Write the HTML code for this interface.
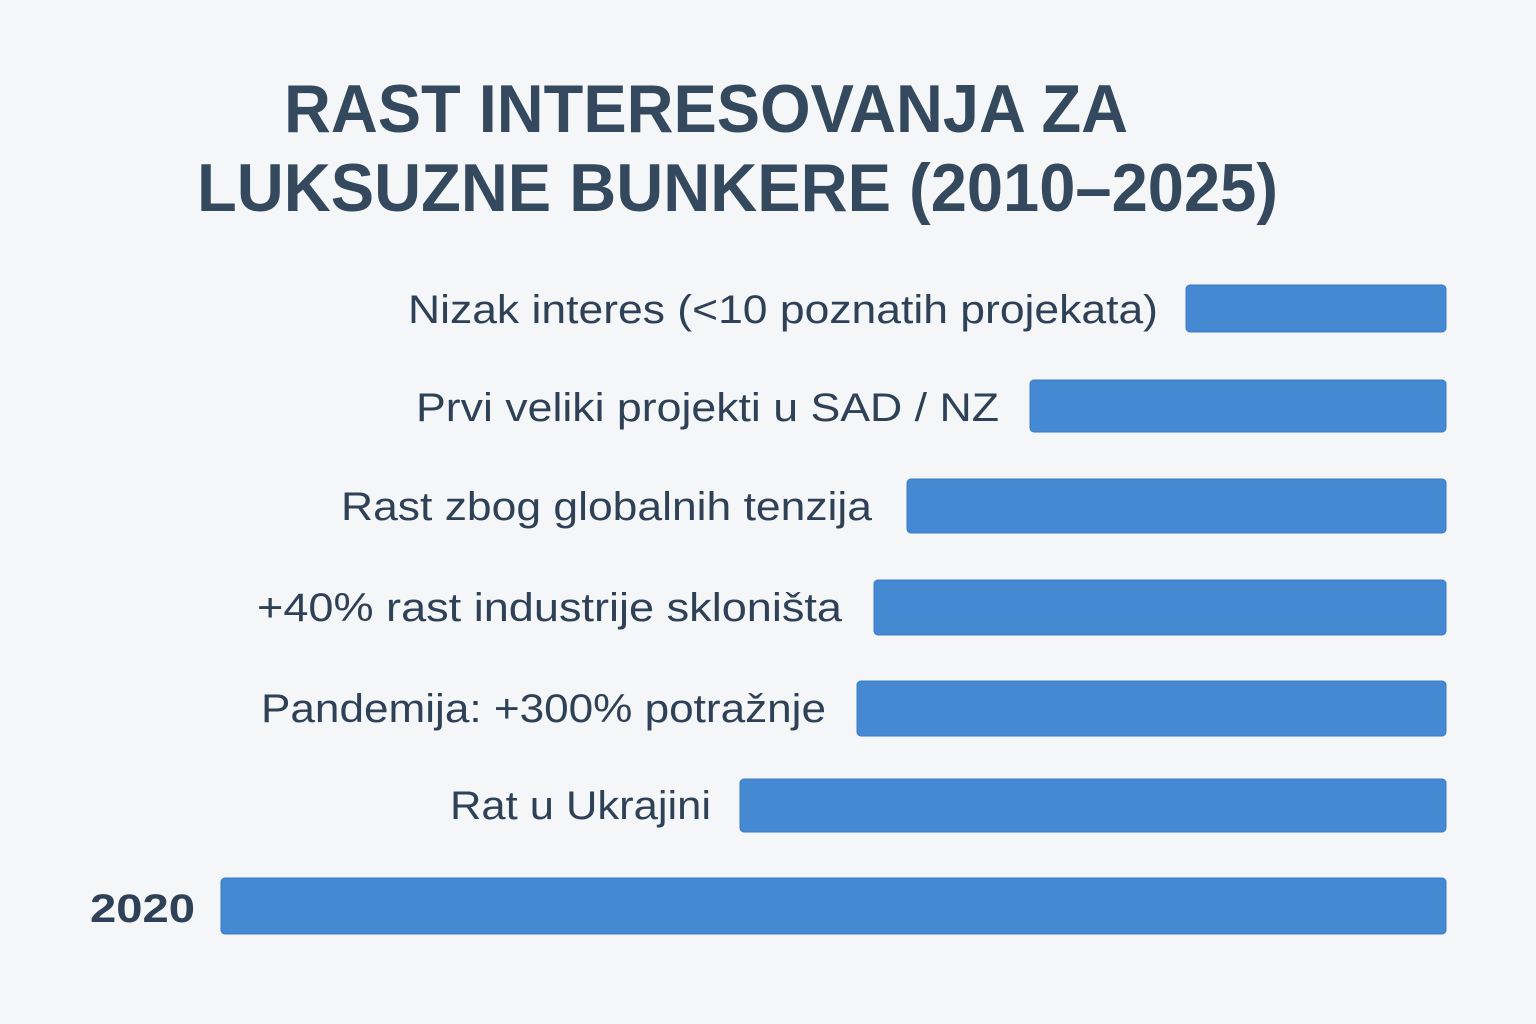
<!DOCTYPE html>
<html><head><meta charset="utf-8"><style>
html,body{margin:0;padding:0;background:#f5f6f8;}
svg{display:block}
</style></head><body>
<svg width="1536" height="1024" viewBox="0 0 1536 1024" xmlns="http://www.w3.org/2000/svg">
<rect width="1536" height="1024" fill="#f5f6f8"/>
<g font-family="Liberation Sans, DejaVu Sans, sans-serif" fill="#34495e">
<text x="284" y="132" font-size="68" font-weight="bold" textLength="844" lengthAdjust="spacingAndGlyphs">RAST INTERESOVANJA ZA</text>
<text x="197" y="211" font-size="68" font-weight="bold" textLength="1081" lengthAdjust="spacingAndGlyphs">LUKSUZNE BUNKERE (2010–2025)</text>
</g>
<g fill="#4589d3" stroke="#3a7cc4" stroke-width="1">
<rect x="1186" y="285" width="260" height="47" rx="4"/>
<rect x="1030" y="380" width="416" height="52" rx="4"/>
<rect x="907" y="479" width="539" height="54" rx="4"/>
<rect x="874" y="580" width="572" height="55" rx="4"/>
<rect x="857" y="681" width="589" height="55" rx="4"/>
<rect x="740" y="779" width="706" height="53" rx="4"/>
<rect x="221" y="878" width="1225" height="56" rx="4"/>
</g>
<g font-family="Liberation Sans, DejaVu Sans, sans-serif" fill="#2e4157" font-size="40">
<text x="408" y="323" textLength="750" lengthAdjust="spacingAndGlyphs">Nizak interes (&lt;10 poznatih projekata)</text>
<text x="416" y="421" textLength="583" lengthAdjust="spacingAndGlyphs">Prvi veliki projekti u SAD / NZ</text>
<text x="341" y="520" textLength="531" lengthAdjust="spacingAndGlyphs">Rast zbog globalnih tenzija</text>
<text x="257" y="621" textLength="585" lengthAdjust="spacingAndGlyphs">+40% rast industrije skloništa</text>
<text x="261" y="722" textLength="565" lengthAdjust="spacingAndGlyphs">Pandemija: +300% potražnje</text>
<text x="450" y="819" textLength="261" lengthAdjust="spacingAndGlyphs">Rat u Ukrajini</text>
<text x="90" y="922" font-weight="bold" textLength="105" lengthAdjust="spacingAndGlyphs">2020</text>
</g>
</svg>
</body></html>
